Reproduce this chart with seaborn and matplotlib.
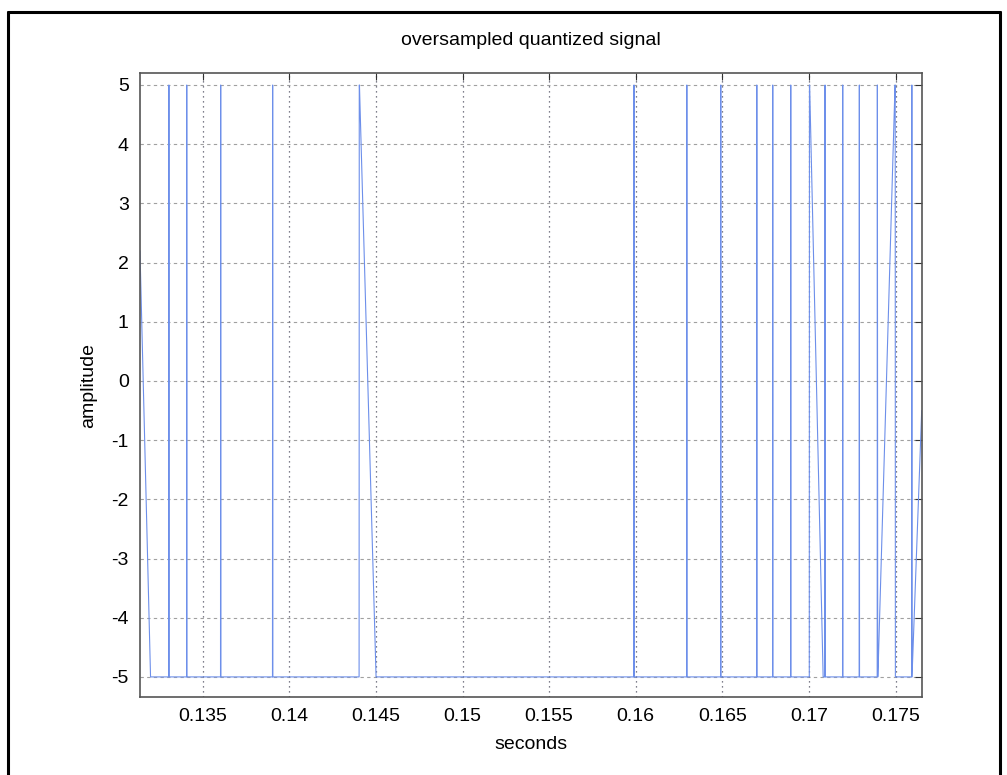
import matplotlib
matplotlib.use("Agg")
import matplotlib.pyplot as plt
from matplotlib.lines import Line2D
import numpy as np
import pandas as pd
import seaborn as sns

# ---- data ----
start_t = [0.13138, 0.13199]
start_amp = [2.2, -5.0]

rise_start = [0.13304, 0.13407, 0.13603, 0.13903, 0.14403, 0.15989, 0.16294, 0.16490, 0.16698,
              0.16790, 0.16894, 0.17002, 0.17092, 0.17194, 0.17290, 0.17394, 0.17398, 0.17593]
rise_end = [0.13305, 0.13408, 0.13604, 0.13904, 0.14404, 0.15990, 0.16295, 0.16491, 0.16699,
            0.16791, 0.16895, 0.17003, 0.17093, 0.17195, 0.17291, 0.17395, 0.17497, 0.17594]
fall_start = [0.13305, 0.13408, 0.13604, 0.13904, 0.14405, 0.15990, 0.16295, 0.16491, 0.16699,
              0.16791, 0.16895, 0.17004, 0.17093, 0.17195, 0.17291, 0.17395, 0.17498, 0.17594]
fall_end = [0.13306, 0.13409, 0.13605, 0.13905, 0.14501, 0.15991, 0.16296, 0.16492, 0.16700,
            0.16792, 0.16896, 0.17082, 0.17094, 0.17196, 0.17292, 0.17397, 0.17499, 0.17595]

end_t = [0.17651]
end_amp = [-0.5]

low_level = -5.0
high_level = 5.0

x_ticks = [0.135, 0.14, 0.145, 0.15, 0.155, 0.16, 0.165, 0.17, 0.175]
x_tick_labels = ["0.135", "0.14", "0.145", "0.15", "0.155", "0.16", "0.165", "0.17", "0.175"]
y_ticks = [-5, -4, -3, -2, -1, 0, 1, 2, 3, 4, 5]

# ---- build the polyline ----
t_vals = list(start_t)
a_vals = list(start_amp)
for rs, re, fs, fe in zip(rise_start, rise_end, fall_start, fall_end):
    t_vals += [rs, re, fs, fe]
    a_vals += [low_level, high_level, high_level, low_level]
t_vals += end_t
a_vals += end_amp
df = pd.DataFrame({"seconds": t_vals, "amplitude": a_vals})

# ---- style ----
sns.set_theme(style="white")
plt.rcParams["font.family"] = ["Liberation Sans", "DejaVu Sans"]

fig = plt.figure(figsize=(10.07, 7.75), dpi=100)
ax = fig.add_axes([0.139, 0.1006, 0.7763, 0.805])

sns.lineplot(data=df, x="seconds", y="amplitude", sort=False, estimator=None,
             color="#6d8fea", linewidth=0.8, ax=ax)

ax.set_xlim(0.13138, 0.17651)
ax.set_ylim(-5.34, 5.2)
ax.set_xticks(x_ticks)
ax.set_xticklabels(x_tick_labels)
ax.set_yticks(y_ticks)
ax.set_yticklabels([str(v) for v in y_ticks])

ax.tick_params(axis="both", which="both", direction="in", length=5, width=0.8,
               top=True, right=True, labelsize=14, colors="#333333", pad=8)
for lab in ax.get_xticklabels() + ax.get_yticklabels():
    lab.set_color("black")

ax.grid(False)
for yv in y_ticks:
    ax.axhline(yv, color="#a0a0a0", linestyle=(0, (3, 3)), linewidth=0.8, zorder=0)
for xv in x_ticks:
    ax.axvline(xv, color="#555566", linestyle=(0, (1, 3)), linewidth=0.9, zorder=0)

for sp in ax.spines.values():
    sp.set_color("#555555")
    sp.set_linewidth(1.2)

ax.set_title("oversampled quantized signal", fontsize=14, pad=20, color="black")
ax.set_xlabel("seconds", fontsize=14, labelpad=8, color="black")
ax.set_ylabel("amplitude", fontsize=14, labelpad=10, color="black")

# outer frame (scanned figure border)
W, H = 1007, 775
def fx(px):
    return px / W
def fy(py):
    return 1 - py / H
fig.add_artist(Line2D([fx(8), fx(1000)], [fy(12), fy(12)], color="black", linewidth=2.2))
fig.add_artist(Line2D([fx(8), fx(8)], [fy(12), fy(775)], color="black", linewidth=2.2))
fig.add_artist(Line2D([fx(1000), fx(1000)], [fy(12), fy(775)], color="black", linewidth=2.2))

fig.savefig("out.png", dpi=100)
